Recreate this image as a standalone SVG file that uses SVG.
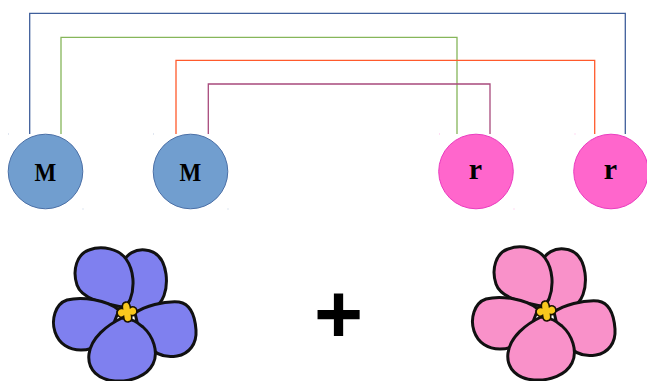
<svg xmlns="http://www.w3.org/2000/svg" width="647" height="381" viewBox="0 0 647 381">
  <style>
    .link { fill: none; stroke-width: 1.3; }
    .allele-m { fill: #719ecf; stroke: #4a6fa6; stroke-width: 1; }
    .allele-r { fill: #ff66cc; stroke: #ea3bbf; stroke-width: 1; }
    .lbl { font-family: "Liberation Serif", "Times New Roman", serif; font-weight: bold; fill: #000; text-anchor: middle; }
    .petal { stroke: #111; stroke-width: 3; stroke-linejoin: round; }
    .eye { fill: #f9c81e; stroke: #1a1200; stroke-width: 1.6; }
    .handle { opacity: 0.45; }
    .plus { font-family: "Liberation Sans", Arial, sans-serif; font-weight: bold; fill: #000; text-anchor: middle; }
  </style>
  <defs>
    <!-- violet blossom, drawn around its yellow eye at (0,0) -->
    <g id="blossom">
      <path class="petal" d="M -4,-50 C 0,-58 8,-63 18,-62 C 30,-61 37,-52 39,-38 C 41,-22 36,-8 26,-4 C 18,-1 10,-1 4,0 L -2,-10 Z"/>
      <path class="petal" d="M -5,-5 C -20,-8 -45,-12 -50,-27 C -55,-42 -50,-58 -38,-62 C -25,-67 -8,-63 -1,-53 C 7,-42 8,-25 3,-12 C 1,-8 -2,-6 -5,-5 Z"/>
      <path class="petal" d="M -8,-2 C -20,-12 -45,-16 -60,-12 C -72,-8 -76,8 -72,20 C -68,32 -58,38 -46,38 C -32,38 -20,30 -15,16 C -12,8 -10,3 -8,-2 Z"/>
      <path class="petal" d="M 8,1 C 18,-6 36,-11 52,-10 C 64,-8 68,4 69,18 C 70,32 62,42 50,44 C 38,46 28,42 22,34 C 14,24 10,12 8,1 Z"/>
      <path class="petal" d="M -5,6 C -20,13 -36,26 -38,42 C -40,58 -28,68 -12,69 C 4,70 20,64 26,52 C 32,40 26,24 16,15 C 10,10 6,7 -5,6 Z"/>
      <path class="eye" transform="rotate(-8)" d="M 0,-10 C 4,-10 4,-6 4,-4 C 6,-5 10,-4 10,0 C 10,4 6,5 4,4 C 4,7 4,10 0,10 C -4,10 -4,7 -4,4 C -6,5 -10,4 -10,0 C -10,-4 -6,-5 -4,-4 C -4,-6 -4,-10 0,-10 Z"/>
    </g>
  </defs>

  <rect width="647" height="381" fill="#fff"/>

  <!-- pairing lines between alleles -->
  <g id="connectors">
    <polyline class="link" stroke="#3f5f9b" points="29.7,134 29.7,13.3 625.3,13.3 625.3,134"/>
    <polyline class="link" stroke="#86b65a" points="61,134 61,37.3 457,37.3 457,134"/>
    <polyline class="link" stroke="#ff5a2c" points="176,134 176,60.3 594.7,60.3 594.7,134"/>
    <polyline class="link" stroke="#a84a7c" points="208.3,134 208.3,84 490,84 490,134"/>
  </g>

  <!-- alleles -->
  <g id="allele-m1">
    <circle class="allele-m" cx="45.5" cy="171.5" r="37.3"/>
    <text class="lbl" transform="translate(45.4,181.3) scale(1,1.12)" font-size="23">M</text>
    <rect class="handle" x="8" y="133.5" width="1" height="1" fill="#7a95c0"/>
    <rect class="handle" x="82.5" y="208.5" width="1" height="1" fill="#7a95c0"/>
  </g>
  <g id="allele-m2">
    <circle class="allele-m" cx="190.5" cy="171.5" r="37.3"/>
    <text class="lbl" transform="translate(190.4,181.3) scale(1,1.12)" font-size="23">M</text>
    <rect class="handle" x="153" y="133.5" width="1" height="1" fill="#7a95c0"/>
    <rect class="handle" x="227.5" y="208.5" width="1" height="1" fill="#7a95c0"/>
  </g>
  <g id="allele-r1">
    <circle class="allele-r" cx="476" cy="171.5" r="37.3"/>
    <text class="lbl" x="475.5" y="178.8" font-size="30">r</text>
    <rect class="handle" x="439" y="133.5" width="1" height="1" fill="#ff66cc"/>
    <rect class="handle" x="513.5" y="208.5" width="1" height="1" fill="#ff66cc"/>
  </g>
  <g id="allele-r2">
    <circle class="allele-r" cx="611" cy="171.5" r="37.3"/>
    <text class="lbl" x="610.5" y="178.8" font-size="30">r</text>
    <rect class="handle" x="574.5" y="133.5" width="1" height="1" fill="#ff66cc"/>
  </g>

  <!-- offspring flowers -->
  <g id="flower-violet">
    <use href="#blossom" transform="translate(127,312)" fill="#7f80ef"/>
  </g>
  <g id="plus">
    <text class="plus" x="338.5" y="343" font-size="84">+</text>
  </g>
  <g id="flower-pink">
    <use href="#blossom" transform="translate(546,311)" fill="#f991c9"/>
  </g>
</svg>
